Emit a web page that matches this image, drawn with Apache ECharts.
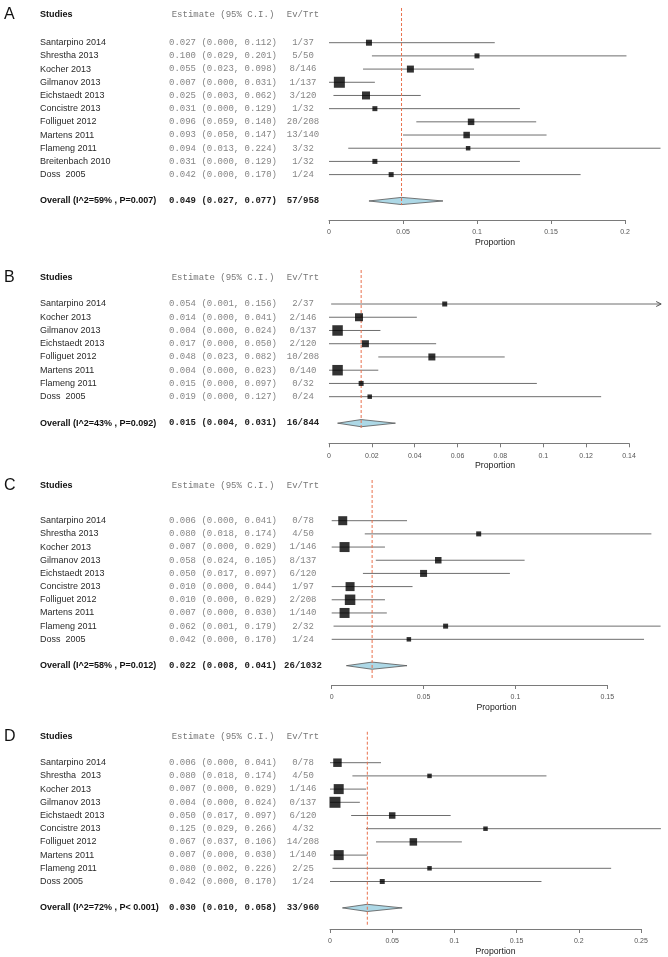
<!DOCTYPE html>
<html>
<head>
<meta charset="utf-8">
<script src="https://cdn.jsdelivr.net/npm/echarts@6/dist/echarts.min.js"></script>
<style>
html, body { margin: 0; padding: 0; background: #fff; }
#forest { width: 668px; height: 957px; }
</style>
</head>
<body>
<div id="forest"></div>
<script>
// A
var studiesA = ['Santarpino 2014', 'Shrestha 2013', 'Kocher 2013', 'Gilmanov 2013', 'Eichstaedt 2013', 'Concistre 2013',
    'Folliguet 2012', 'Martens 2011', 'Flameng 2011', 'Breitenbach 2010', 'Doss  2005'];
var estA = [0.027, 0.100, 0.055, 0.007, 0.025, 0.031, 0.096, 0.093, 0.094, 0.031, 0.042];
var loA  = [0.000, 0.029, 0.023, 0.000, 0.003, 0.000, 0.059, 0.050, 0.013, 0.000, 0.000];
var hiA  = [0.112, 0.201, 0.098, 0.031, 0.062, 0.129, 0.140, 0.147, 0.224, 0.129, 0.170];
var evA  = [1, 5, 8, 1, 3, 1, 20, 13, 3, 1, 1];
var nA   = [37, 50, 146, 137, 120, 32, 208, 140, 32, 32, 24];
var wA   = [6, 5, 7, 11, 8, 5, 6.5, 6.5, 4.5, 5, 5];
var overallA = [0.049, 0.027, 0.077];
var totalA = [57, 958];
var hetA = 'Overall (I^2=59% , P=0.007)';

// B
var studiesB = ['Santarpino 2014', 'Kocher 2013', 'Gilmanov 2013', 'Eichstaedt 2013', 'Folliguet 2012', 'Martens 2011',
    'Flameng 2011', 'Doss  2005'];
var estB = [0.054, 0.014, 0.004, 0.017, 0.048, 0.004, 0.015, 0.019];
var loB  = [0.001, 0.000, 0.000, 0.000, 0.023, 0.000, 0.000, 0.000];
var hiB  = [0.156, 0.041, 0.024, 0.050, 0.082, 0.023, 0.097, 0.127];
var evB  = [2, 2, 0, 2, 10, 0, 0, 0];
var nB   = [37, 146, 137, 120, 208, 140, 32, 24];
var wB   = [5, 8, 10.5, 7, 7, 10.5, 5, 4.5];
var overallB = [0.015, 0.004, 0.031];
var totalB = [16, 844];
var hetB = 'Overall (I^2=43% , P=0.092)';

// C
var studiesC = ['Santarpino 2014', 'Shrestha 2013', 'Kocher 2013', 'Gilmanov 2013', 'Eichstaedt 2013', 'Concistre 2013',
    'Folliguet 2012', 'Martens 2011', 'Flameng 2011', 'Doss  2005'];
var estC = [0.006, 0.080, 0.007, 0.058, 0.050, 0.010, 0.010, 0.007, 0.062, 0.042];
var loC  = [0.000, 0.018, 0.000, 0.024, 0.017, 0.000, 0.000, 0.000, 0.001, 0.000];
var hiC  = [0.041, 0.174, 0.029, 0.105, 0.097, 0.044, 0.029, 0.030, 0.179, 0.170];
var evC  = [0, 4, 1, 8, 6, 1, 2, 1, 2, 1];
var nC   = [78, 50, 146, 137, 120, 97, 208, 140, 32, 24];
var wC   = [9, 5, 10, 6.5, 7, 9, 10.5, 10, 5, 4.5];
var overallC = [0.022, 0.008, 0.041];
var totalC = [26, 1032];
var hetC = 'Overall (I^2=58% , P=0.012)';

// D
var studiesD = ['Santarpino 2014', 'Shrestha  2013', 'Kocher 2013', 'Gilmanov 2013', 'Eichstaedt 2013', 'Concistre 2013',
    'Folliguet 2012', 'Martens 2011', 'Flameng 2011', 'Doss 2005'];
var estD = [0.006, 0.080, 0.007, 0.004, 0.050, 0.125, 0.067, 0.007, 0.080, 0.042];
var loD  = [0.000, 0.018, 0.000, 0.000, 0.017, 0.029, 0.037, 0.000, 0.002, 0.000];
var hiD  = [0.041, 0.174, 0.029, 0.024, 0.097, 0.266, 0.106, 0.030, 0.226, 0.170];
var evD  = [0, 4, 1, 0, 6, 4, 14, 1, 2, 1];
var nD   = [78, 50, 146, 137, 120, 32, 208, 140, 25, 24];
var wD   = [8.5, 4.5, 10, 11, 6.5, 4.5, 7.5, 10, 4.5, 5];
var overallD = [0.030, 0.010, 0.058];
var totalD = [33, 960];
var hetD = 'Overall (I^2=72% , P< 0.001)';

var axisMax = [0.2, 0.14, 0.15, 0.25];
var tickStep = [0.05, 0.02, 0.05, 0.05];

var panels = [
    {letter: 'A', names: studiesA, est: estA, lo: loA, hi: hiA, ev: evA, n: nA, w: wA, ov: overallA, tot: totalA, het: hetA},
    {letter: 'B', names: studiesB, est: estB, lo: loB, hi: hiB, ev: evB, n: nB, w: wB, ov: overallB, tot: totalB, het: hetB},
    {letter: 'C', names: studiesC, est: estC, lo: loC, hi: hiC, ev: evC, n: nC, w: wC, ov: overallC, tot: totalC, het: hetC},
    {letter: 'D', names: studiesD, est: estD, lo: loD, hi: hiD, ev: evD, n: nD, w: wD, ov: overallD, tot: totalD, het: hetD}
];

// page layout of each panel (pixels), plotMax = right edge of drawing area in data units
var layout = [
    {x0: 329,   x1: 625,   top: 8,     axisY: 220,   row0: 42.7,  step: 13.19, header: 15,    refEnd: 205, plotMax: 0.2243},
    {x0: 329,   x1: 629,   top: 270,   axisY: 443.3, row0: 304,   step: 13.24, header: 277.7, refEnd: 430, plotMax: 0.155},
    {x0: 331.7, x1: 607.3, top: 480,   axisY: 685,   row0: 520.7, step: 13.18, header: 485.7, refEnd: 680, plotMax: 0.1793},
    {x0: 330,   x1: 641,   top: 731.7, axisY: 929,   row0: 762.7, step: 13.2,  header: 736.7, refEnd: 925, plotMax: 0.266}
];

var SANS = '"Liberation Sans", Arial, sans-serif';
var MONO = '"Liberation Mono", "Courier New", monospace';
var colName = 40, colEst = 223, colTrt = 303;

function fmt(e, l, h) {
    return e.toFixed(3) + ' (' + l.toFixed(3) + ', ' + h.toFixed(3) + ')';
}

function txt(x, y, s, align, family, size, weight, color) {
    return {
        type: 'text', x: x, y: y,
        style: {text: s, align: align, verticalAlign: 'middle', fontFamily: family,
            fontSize: size, fontWeight: weight, fill: color}
    };
}

var grids = [], xAxes = [], yAxes = [], series = [];

panels.forEach(function (p, k) {
    var g = layout[k];
    var yMin = (g.top - g.row0) / g.step;
    var yMax = (g.axisY - g.row0) / g.step;
    var ovRow = p.names.length + 1;
    var width = g.x1 - g.x0;

    grids.push({left: g.x0, top: g.top, width: width, height: g.axisY - g.top,
        containLabel: false, outerBoundsMode: 'none'});

    xAxes.push({
        gridIndex: k, type: 'value', position: 'bottom', min: 0, max: axisMax[k], interval: tickStep[k],
        axisLine: {show: true, onZero: false, lineStyle: {color: '#7a7a7a', width: 1}},
        axisTick: {show: true, inside: false, length: 4, lineStyle: {color: '#7a7a7a'}},
        axisLabel: {fontSize: 7, color: '#555', margin: 9, fontFamily: SANS},
        splitLine: {show: false},
        name: 'Proportion', nameLocation: 'middle', nameGap: 18,
        nameTextStyle: {fontSize: 8.7, color: '#222', fontFamily: SANS,
            padding: [0, 0, 0, (g.plotMax - axisMax[k]) / axisMax[k] * width]}
    });
    yAxes.push({gridIndex: k, type: 'value', inverse: true, min: yMin, max: yMax, show: false});

    // confidence intervals
    series.push({
        type: 'custom', xAxisIndex: k, yAxisIndex: k, z: 2, silent: true,
        data: p.est.map(function (_, i) { return [p.lo[i], p.hi[i], i]; }),
        encode: {x: [0, 1], y: 2},
        renderItem: function (params, api) {
            var hi = api.value(1);
            var a = api.coord([api.value(0), api.value(2)]);
            var b = api.coord([Math.min(hi, g.plotMax), api.value(2)]);
            var kids = [{type: 'line', shape: {x1: a[0], y1: a[1], x2: b[0], y2: b[1]},
                style: {stroke: '#6e6e6e', lineWidth: 1}}];
            if (hi > g.plotMax) {
                kids.push({type: 'polyline', shape: {points: [[b[0] - 5, b[1] - 2.5], [b[0], b[1]], [b[0] - 5, b[1] + 2.5]]},
                    style: {stroke: '#555', fill: null, lineWidth: 1}});
            }
            return {type: 'group', children: kids};
        }
    });

    // pooled estimate reference line
    series.push({
        type: 'line', xAxisIndex: k, yAxisIndex: k, z: 3, silent: true, symbol: 'none',
        data: [[p.ov[0], yMin], [p.ov[0], (g.refEnd - g.row0) / g.step]],
        lineStyle: {color: '#e8714e', width: 1, type: [3, 2]}
    });

    // study estimates
    series.push({
        type: 'scatter', xAxisIndex: k, yAxisIndex: k, z: 4, silent: true,
        symbol: 'rect',
        symbolSize: function (val, params) { return p.w[params.dataIndex]; },
        data: p.est.map(function (e, i) { return [e, i]; }),
        itemStyle: {color: '#000'}
    });

    // overall diamond
    series.push({
        type: 'custom', xAxisIndex: k, yAxisIndex: k, z: 3, silent: true,
        data: [[p.ov[0], p.ov[1], p.ov[2], ovRow]],
        encode: {x: [0, 1, 2], y: 3},
        renderItem: function (params, api) {
            var r = api.value(3);
            var c = api.coord([api.value(0), r]);
            var l = api.coord([api.value(1), r]);
            var h = api.coord([api.value(2), r]);
            return {type: 'polygon',
                shape: {points: [[l[0], l[1]], [c[0], c[1] - 3.6], [h[0], h[1]], [c[0], c[1] + 3.6]]},
                style: {fill: '#add8e6', stroke: '#555', lineWidth: 0.8}};
        }
    });

    // text columns
    var textRows = [[0, (g.header - g.row0) / g.step]];
    p.names.forEach(function (_, i) { textRows.push([0, i]); });
    textRows.push([0, ovRow]);
    series.push({
        type: 'custom', xAxisIndex: k, yAxisIndex: k, z: 5, silent: true,
        data: textRows,
        encode: {x: 0, y: 1},
        renderItem: function (params, api) {
            var y = api.coord([0, api.value(1)])[1];
            var i = params.dataIndex, m = p.names.length;
            var kids;
            if (i === 0) {
                kids = [
                    txt(4, y, p.letter, 'left', SANS, 16, 'normal', '#111'),
                    txt(colName, y, 'Studies', 'left', SANS, 9, 'bold', '#111'),
                    txt(colEst, y, 'Estimate (95% C.I.)', 'center', MONO, 9, 'normal', '#777'),
                    txt(colTrt, y, 'Ev/Trt', 'center', MONO, 9, 'normal', '#777')
                ];
            } else if (i <= m) {
                var j = i - 1;
                kids = [
                    txt(colName, y, p.names[j], 'left', SANS, 9, 'normal', '#2a2a2a'),
                    txt(colEst, y, fmt(p.est[j], p.lo[j], p.hi[j]), 'center', MONO, 9, 'normal', '#858585'),
                    txt(colTrt, y, p.ev[j] + '/' + p.n[j], 'center', MONO, 9, 'normal', '#858585')
                ];
            } else {
                kids = [
                    txt(colName, y, p.het, 'left', SANS, 9, 'bold', '#111'),
                    txt(colEst, y, fmt(p.ov[0], p.ov[1], p.ov[2]), 'center', MONO, 9, 'bold', '#222'),
                    txt(colTrt, y, p.tot[0] + '/' + p.tot[1], 'center', MONO, 9, 'bold', '#222')
                ];
            }
            return {type: 'group', children: kids};
        }
    });
});

var chart = echarts.init(document.getElementById('forest'));
chart.setOption({
    animation: false,
    backgroundColor: '#fff',
    grid: grids,
    xAxis: xAxes,
    yAxis: yAxes,
    series: series
});
</script>
</body>
</html>
